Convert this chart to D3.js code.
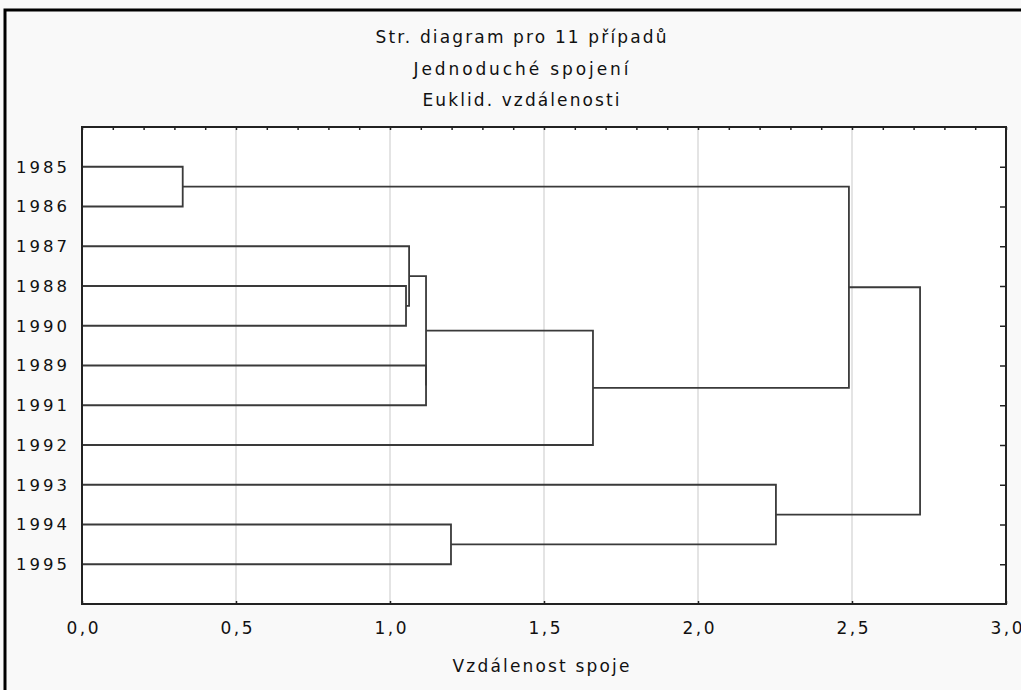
<!DOCTYPE html>
<head>
  <meta charset="utf-8">
  <title>dendrogram</title>
</head>
<style>
body { margin: 0; background: #f9f9f9; }
text { font-family: "DejaVu Sans", sans-serif; fill: #111; }
.grid line { stroke: #d2d2d2; stroke-width: 1.2; }
.link { fill: none; stroke: #3a3a3a; stroke-width: 1.8; }
.tick line { stroke: #222; stroke-width: 1.5; }
</style>
<svg width="1021" height="690"></svg>
<script src="https://d3js.org/d3.v7.min.js"></script>
<script>
// leaf order as drawn, top to bottom
var leaves = ["1985", "1986", "1987", "1988", "1990", "1989", "1991", "1992", "1993", "1994", "1995"];

// merge steps: [left, right, linkage distance]; cluster k (1-based) is named "c" + k
var merges = [
  ["1985", "1986", 0.327],
  ["1988", "1990", 1.052],
  ["1987", "c2", 1.062],
  ["1989", "1991", 1.117],
  ["c3", "c4", 1.117],
  ["c5", "1992", 1.659],
  ["1994", "1995", 1.198],
  ["1993", "c7", 2.253],
  ["c1", "c6", 2.490],
  ["c9", "c8", 2.721]
];

var xTicks = [0, 0.5, 1, 1.5, 2, 2.5, 3];
var xMinor = d3.range(0, 31).map(function(i) { return i / 10; });
var gridTicks = [0.5, 1, 1.5, 2, 2.5];
var titles = ["Str. diagram pro 11 případů", "Jednoduché spojení", "Euklid. vzdálenosti"];
var xTitle = "Vzdálenost spoje";

var svg = d3.select("svg"),
    plot = { left: 82, top: 127, right: 1006, bottom: 604 };

var x = d3.scaleLinear().domain([0, 3]).range([plot.left, plot.right]);
var y = d3.scalePoint().domain(leaves).range([plot.top, plot.bottom]).padding(1);

// outer frame
svg.append("rect")
    .attr("x", 5).attr("y", 10)
    .attr("width", 1040).attr("height", 700)
    .attr("fill", "#f9f9f9").attr("stroke", "#000").attr("stroke-width", 3);

svg.append("rect")
    .attr("x", plot.left).attr("y", plot.top)
    .attr("width", plot.right - plot.left).attr("height", plot.bottom - plot.top)
    .attr("fill", "#fff");

// grid
svg.append("g").attr("class", "grid")
  .selectAll("line")
  .data(gridTicks)
  .enter().append("line")
    .attr("x1", function(d) { return x(d); })
    .attr("x2", function(d) { return x(d); })
    .attr("y1", plot.top)
    .attr("y2", plot.bottom);

// top minor ticks
var topAxis = svg.append("g")
    .attr("transform", "translate(0," + plot.top + ")")
    .call(d3.axisTop(x).tickValues(xMinor).tickSizeInner(-3).tickSizeOuter(0).tickFormat(""));
topAxis.select(".domain").remove();

// bottom axis
var bottomAxis = svg.append("g")
    .attr("transform", "translate(0," + plot.bottom + ")")
    .call(d3.axisBottom(x).tickValues(xTicks).tickSizeInner(-3).tickSizeOuter(0)
      .tickFormat(function(d) { return d3.format(".1f")(d).replace(".", ","); }));
bottomAxis.select(".domain").remove();
bottomAxis.selectAll("text")
    .attr("y", 30).attr("dy", null)
    .attr("font-size", 17)
    .attr("textLength", 32)
    .attr("lengthAdjust", "spacing");

// right ticks at each leaf row
var rightAxis = svg.append("g")
    .attr("transform", "translate(" + plot.right + ",0)")
    .call(d3.axisRight(y).tickSizeInner(-6).tickSizeOuter(0).tickFormat(""));
rightAxis.select(".domain").remove();

// leaf labels
svg.append("g")
  .selectAll("text")
  .data(leaves)
  .enter().append("text")
    .attr("x", 16)
    .attr("y", function(d) { return y(d); })
    .attr("dy", "0.36em")
    .attr("font-size", 16.5)
    .attr("textLength", 51)
    .attr("lengthAdjust", "spacing")
    .text(function(d) { return d; });

// dendrogram links
var nodes = {};
leaves.forEach(function(d) { nodes[d] = { x: x(0), y: y(d) }; });

var links = merges.map(function(m, i) {
  var a = nodes[m[0]], b = nodes[m[1]], xm = x(m[2]);
  nodes["c" + (i + 1)] = { x: xm, y: (a.y + b.y) / 2 };
  return [[a.x, a.y], [xm, a.y], [xm, b.y], [b.x, b.y]];
});

svg.append("g")
  .selectAll("path")
  .data(links)
  .enter().append("path")
    .attr("class", "link")
    .attr("d", d3.line());

// plot border
svg.append("rect")
    .attr("x", plot.left).attr("y", plot.top)
    .attr("width", plot.right - plot.left).attr("height", plot.bottom - plot.top)
    .attr("fill", "none").attr("stroke", "#222").attr("stroke-width", 2);

// titles
var titleLen = [291, 215, 197];
svg.append("g")
  .selectAll("text")
  .data(titles)
  .enter().append("text")
    .attr("x", 521)
    .attr("y", function(d, i) { return 43 + i * 31.6; })
    .attr("text-anchor", "middle")
    .attr("font-size", 17)
    .attr("textLength", function(d, i) { return titleLen[i]; })
    .attr("lengthAdjust", "spacing")
    .text(function(d) { return d; });

svg.append("text")
    .attr("x", 541)
    .attr("y", 672)
    .attr("text-anchor", "middle")
    .attr("font-size", 17)
    .attr("textLength", 177)
    .attr("lengthAdjust", "spacing")
    .text(xTitle);
</script>
